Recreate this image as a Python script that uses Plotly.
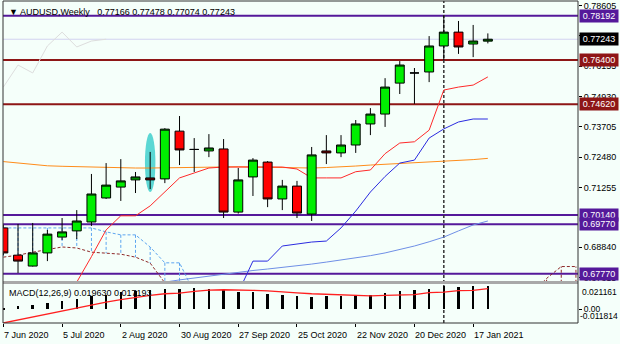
import pandas as pd
import plotly.graph_objects as go

# ---------------- data ----------------
week_start = "2020-06-07"

opens = [0.6962, 0.6852, 0.6808, 0.6861, 0.6925, 0.6950, 0.6986, 0.7083, 0.7127, 0.7156,
         0.7164, 0.7160, 0.7353, 0.7279, 0.7273, 0.7281, 0.7026, 0.7168, 0.7228, 0.7079,
         0.7131, 0.7018, 0.7273, 0.7265, 0.7297, 0.7382, 0.7422, 0.7547, 0.7588, 0.7592,
         0.7697, 0.7753, 0.7705, 0.77166]
highs = [0.6975, 0.6978, 0.6982, 0.6954, 0.7002, 0.7034, 0.7180, 0.7224, 0.7240, 0.7188,
         0.7269, 0.7365, 0.7414, 0.7325, 0.7341, 0.7321, 0.7204, 0.7244, 0.7232, 0.7156,
         0.7152, 0.7289, 0.7337, 0.7337, 0.7398, 0.7446, 0.7567, 0.7636, 0.7608, 0.7737,
         0.7820, 0.7798, 0.7782, 0.77478]
lows = [0.6852, 0.6780, 0.6806, 0.6828, 0.6913, 0.6917, 0.6970, 0.7079, 0.7071, 0.7103,
        0.7119, 0.7143, 0.7216, 0.7188, 0.7248, 0.7002, 0.7020, 0.7091, 0.7046, 0.7034,
        0.7002, 0.6990, 0.7220, 0.7248, 0.7265, 0.7337, 0.7370, 0.7503, 0.7463, 0.7551,
        0.7640, 0.7665, 0.7652, 0.77074]
closes = [0.6861, 0.6828, 0.6861, 0.6937, 0.6946, 0.6990, 0.7099, 0.7135, 0.7152, 0.7168,
          0.7156, 0.7361, 0.7277, 0.7279, 0.7285, 0.7026, 0.7156, 0.7236, 0.7079, 0.7131,
          0.7022, 0.7257, 0.7265, 0.7297, 0.7382, 0.7422, 0.7531, 0.7620, 0.7588, 0.7697,
          0.7753, 0.7693, 0.7717, 0.77243]

red_line = [None, None, None, None, 0.6626, 0.6743, 0.6846, 0.6954, 0.7011, 0.7011,
            0.7051, 0.7107, 0.7164, 0.7184, 0.7204, 0.7208, 0.7208, 0.7208, 0.7208, 0.7208,
            0.7200, 0.7164, 0.7164, 0.7164, 0.7189, 0.7196, 0.7262, 0.7305, 0.7310, 0.7357,
            0.7519, 0.7531, 0.7539, 0.7572]
blue_line = [None] * 16 + [0.6701, 0.6828, 0.6828, 0.6889, 0.6897, 0.6905, 0.6909, 0.6962,
                           0.7030, 0.7107, 0.7170, 0.7224, 0.7236, 0.7325, 0.7362, 0.7390,
                           0.7402, 0.7402]
orange_line = [0.7230, 0.7224, 0.7218, 0.7213, 0.7211, 0.7209, 0.7207, 0.7206, 0.7205, 0.7204,
               0.7204, 0.7205, 0.7206, 0.7207, 0.7208, 0.7209, 0.7209, 0.7208, 0.7207, 0.7206,
               0.7205, 0.7204, 0.7206, 0.7208, 0.7212, 0.7216, 0.7219, 0.7223, 0.7225, 0.7228,
               0.7230, 0.7234, 0.7238, 0.7243]
lightblue_line = [None] * 10 + [0.6725, 0.6743, 0.6752, 0.6760, 0.6767, 0.6776, 0.6784, 0.6790,
                                0.6796, 0.6802, 0.6808, 0.6816, 0.6824, 0.6832, 0.6841, 0.6850,
                                0.6861, 0.6874, 0.6889, 0.6906, 0.6925, 0.6950, 0.6974, 0.6990]

# Ichimoku-style cloud (40 weekly positions, shifted forward)
span_a = ([0.6962, 0.6962, 0.6962, 0.6962, 0.6962, 0.6962, 0.6962, 0.6946, 0.6934, 0.6934,
           0.6885, 0.6821, 0.6821, 0.6700] + [None] * 22 + [0.6700, 0.6700, 0.6700, 0.6700])
span_b = ([0.6844, 0.6852, 0.6864, 0.6876, 0.6885, 0.6881, 0.6864, 0.6860, 0.6856, 0.6844,
           0.6820, 0.6740, 0.6700] + [None] * 23 + [0.6700, 0.6758, 0.6806, 0.6806])
chikou_shift = 26

macd_hist = [0.0008, 0.0022, 0.0037, 0.0050, 0.0064, 0.0084, 0.0106, 0.0121, 0.0144, 0.0154,
             0.0163, 0.0171, 0.0171, 0.0177, 0.0171, 0.0157, 0.0144, 0.0144, 0.0127, 0.0121,
             0.0106, 0.0101, 0.0106, 0.0106, 0.0114, 0.0121, 0.0135, 0.0149, 0.0157, 0.0171,
             0.0191, 0.0186, 0.0196, 0.019630]
macd_signal = [-0.0118, -0.0092, -0.0068, -0.0042, -0.0017, 0.0011, 0.0036, 0.0059, 0.0080, 0.0099,
               0.0116, 0.0129, 0.0135, 0.0149, 0.0160, 0.0163, 0.0163, 0.0158, 0.0154, 0.0148,
               0.0137, 0.0129, 0.0125, 0.0121, 0.0115, 0.0112, 0.0116, 0.0121, 0.0121, 0.0139,
               0.0143, 0.0156, 0.0157, 0.017193]

purple_levels = [0.78192, 0.70140, 0.69770, 0.67770]
darkred_levels = [0.76400, 0.74620]
bid_price = 0.77243

price_ticks = [0.78605, 0.77380, 0.76155, 0.74930, 0.73705, 0.72480, 0.71255, 0.68840, 0.67615]
date_ticks = ["2020-06-07", "2020-07-05", "2020-08-02", "2020-08-30", "2020-09-27",
              "2020-10-25", "2020-11-22", "2020-12-20", "2021-01-17"]
date_labels = ["7 Jun 2020", "5 Jul 2020", "2 Aug 2020", "30 Aug 2020", "27 Sep 2020",
               "25 Oct 2020", "22 Nov 2020", "20 Dec 2020", "17 Jan 2021"]
macd_max, macd_min = 0.021161, -0.011814

title_text = "\u25BC AUDUSD,Weekly\u00a0\u00a0 0.77166 0.77478 0.77074 0.77243"
macd_title = "MACD(12,26,9) 0.019630 0.017193"
marker_date = "2021-01-03"
highlight_date = "2020-08-16"
highlight_low, highlight_high = 0.7107, 0.7345

# ---------------- styling ----------------
BG = "#F5FFFA"
PURPLE = "#55199A"
DARKRED = "#8E1616"
FONT = "Liberation Sans, Arial, sans-serif"
W, H = 620, 344
ML, MR, MT, MB = 3, 42, 1, 21
plot_h = H - MT - MB
main_bottom_px, macd_top_px = 281, 284
main_dom = [(H - MB - main_bottom_px) / plot_h, 1.0]
macd_dom = [0.0, (H - MB - macd_top_px) / plot_h]
Y_MAIN = [0.67476, 0.78787]
Y_MACD = [macd_min, macd_max]

dates = pd.date_range(week_start, periods=len(opens), freq="7D")
cloud_dates = pd.date_range(week_start, periods=len(span_a), freq="7D")
x_start = pd.Timestamp(week_start) - pd.Timedelta(hours=4)
x_end = pd.Timestamp(week_start) + pd.Timedelta(days=39.14 * 7)

fig = go.Figure()

# cloud hatching
hx_b, hy_b, hx_r, hy_r = [], [], [], []
for d, a, b in zip(cloud_dates, span_a, span_b):
    if a is None or b is None:
        continue
    if a >= b:
        hx_b += [d, d, None]; hy_b += [a, b, None]
    else:
        hx_r += [d, d, None]; hy_r += [a, b, None]
fig.add_trace(go.Scatter(x=hx_b, y=hy_b, mode="lines", line=dict(color="#5DA5F0", width=1, dash="3px,2px"),
                         hoverinfo="skip"))
fig.add_trace(go.Scatter(x=hx_r, y=hy_r, mode="lines", line=dict(color="#8E2A2A", width=1, dash="3px,2px"),
                         hoverinfo="skip"))
fig.add_trace(go.Scatter(x=cloud_dates, y=span_a, mode="lines", connectgaps=False,
                         line=dict(color="#5DA5F0", width=1, dash="3px,2px")))
fig.add_trace(go.Scatter(x=cloud_dates, y=span_b, mode="lines", connectgaps=False,
                         line=dict(color="#8E2A2A", width=1, dash="3px,2px")))

# lagging line
chikou = closes[chikou_shift:]
fig.add_trace(go.Scatter(x=dates[:len(chikou)], y=chikou, mode="lines",
                         line=dict(color="#DDDDDD", width=1)))

# moving lines
fig.add_trace(go.Scatter(x=dates, y=orange_line, mode="lines", line=dict(color="#FF8C1A", width=1)))
fig.add_trace(go.Scatter(x=dates, y=lightblue_line, mode="lines", line=dict(color="#6F8FE6", width=1)))
fig.add_trace(go.Scatter(x=dates, y=blue_line, mode="lines", line=dict(color="#2B2BE0", width=1)))
fig.add_trace(go.Scatter(x=dates, y=red_line, mode="lines", line=dict(color="#FF2A2A", width=1)))

# candles on overlay axis (drawn above lines)
fig.add_trace(go.Candlestick(
    x=dates, open=opens, high=highs, low=lows, close=closes, yaxis="y3", xaxis="x",
    increasing=dict(fillcolor="#00EE00", line=dict(color="#000000", width=1)),
    decreasing=dict(fillcolor="#FF0000", line=dict(color="#000000", width=1)),
    whiskerwidth=0))

# MACD
fig.add_trace(go.Bar(x=dates, y=macd_hist, xaxis="x2", yaxis="y2", marker=dict(color="#000000", line=dict(width=0)),
                     width=0.17 * 7 * 86400000))
fig.add_trace(go.Scatter(x=dates, y=macd_signal, xaxis="x2", yaxis="y2", mode="lines",
                         line=dict(color="#FF2020", width=1.3)))

shapes = []
for lv in purple_levels:
    shapes.append(dict(type="line", xref="x domain", yref="y", x0=0, x1=1, y0=lv, y1=lv,
                       line=dict(color=PURPLE, width=2), layer="below"))
for lv in darkred_levels:
    shapes.append(dict(type="line", xref="x domain", yref="y", x0=0, x1=1, y0=lv, y1=lv,
                       line=dict(color=DARKRED, width=2), layer="below"))
shapes.append(dict(type="line", xref="x domain", yref="y", x0=0, x1=1, y0=bid_price, y1=bid_price,
                   line=dict(color="#D2D2F0", width=1), layer="below"))
hd = pd.Timestamp(highlight_date)
shapes.append(dict(type="circle", xref="x", yref="y", x0=hd - pd.Timedelta(days=2.5), x1=hd + pd.Timedelta(days=2.5),
                   y0=highlight_low, y1=highlight_high, fillcolor="rgba(64,208,204,0.85)",
                   line=dict(width=0), layer="below"))
shapes.append(dict(type="line", xref="x", yref="paper", x0=marker_date, x1=marker_date, y0=0, y1=1,
                   line=dict(color="#333333", width=1.5, dash="3px,2px"), layer="below"))
shapes.append(dict(type="rect", xref="paper", yref="paper", x0=0, x1=1, y0=macd_dom[1], y1=main_dom[0],
                   fillcolor="#A8A8A8", line=dict(width=0)))
shapes.append(dict(type="rect", xref="paper", yref="paper", x0=0, x1=1, y0=0, y1=1,
                   line=dict(color="#333333", width=1), fillcolor="rgba(0,0,0,0)"))

ann = []
ann.append(dict(text=title_text, xref="paper", yref="paper", x=0, y=1, xanchor="left", yanchor="top",
                xshift=4, yshift=-4, showarrow=False, font=dict(size=9, color="#000", family=FONT)))
ann.append(dict(text=macd_title, xref="paper", yref="y2 domain", x=0, y=1, xanchor="left", yanchor="top",
                xshift=4, yshift=-2, showarrow=False, font=dict(size=9, color="#000", family=FONT)))
for d, lab in zip(date_ticks, date_labels):
    ann.append(dict(text=lab, xref="x2", yref="paper", x=d, y=0, xanchor="left", yanchor="top",
                    xshift=-1, yshift=-5, showarrow=False, font=dict(size=9, color="#000", family=FONT)))
ann.append(dict(text=f"{macd_max:.6f}", xref="paper", yref="y2", x=1, y=macd_max, xanchor="left", yanchor="top",
                xshift=2, yshift=-1, showarrow=False, font=dict(size=8.5, color="#000", family=FONT)))
ann.append(dict(text=f"{macd_min:.6f}", xref="paper", yref="y2", x=1, y=macd_min, xanchor="left", yanchor="bottom",
                xshift=0, showarrow=False, font=dict(size=8.5, color="#000", family=FONT)))
box_levels = ([(lv, PURPLE) for lv in purple_levels] + [(lv, DARKRED) for lv in darkred_levels]
              + [(bid_price, "#000000")])
for lv, col in box_levels:
    ann.append(dict(text=f"{lv:.5f}", xref="paper", yref="y", x=1, y=lv, xanchor="left", yanchor="middle",
                    xshift=1, showarrow=False, bgcolor=col, width=36, height=10, borderpad=1,
                    font=dict(size=9, color="#FFFFFF", family=FONT)))

fig.update_layout(
    width=W, height=H, margin=dict(l=ML, r=MR, t=MT, b=MB),
    paper_bgcolor=BG, plot_bgcolor=BG, showlegend=False,
    boxgap=0.39, boxgroupgap=0,
    bargap=0,
    xaxis=dict(domain=[0, 1], anchor="y", range=[x_start, x_end], showticklabels=False, ticks="",
               showgrid=False, zeroline=False, rangeslider=dict(visible=False)),
    xaxis2=dict(domain=[0, 1], anchor="y2", matches="x", range=[x_start, x_end], tickvals=date_ticks,
                ticks="outside", ticklen=3, tickcolor="#000", showticklabels=False, showgrid=False,
                zeroline=False),
    yaxis=dict(domain=main_dom, anchor="x", side="right", range=Y_MAIN, tickvals=price_ticks,
               ticktext=[f"{v:.5f}" for v in price_ticks], ticks="outside", ticklen=3, tickcolor="#000",
               showgrid=False, zeroline=False, tickfont=dict(size=9, color="#000", family=FONT)),
    yaxis3=dict(overlaying="y", anchor="x", side="right", range=Y_MAIN, visible=False),
    yaxis2=dict(domain=macd_dom, anchor="x2", side="right", range=Y_MACD, tickvals=[0], ticktext=["0.00"],
                ticks="outside", ticklen=3, tickcolor="#000", showgrid=False, zeroline=False,
                tickfont=dict(size=8.5, color="#000", family=FONT)),
    shapes=shapes, annotations=ann,
)

fig.write_html("out.html")
